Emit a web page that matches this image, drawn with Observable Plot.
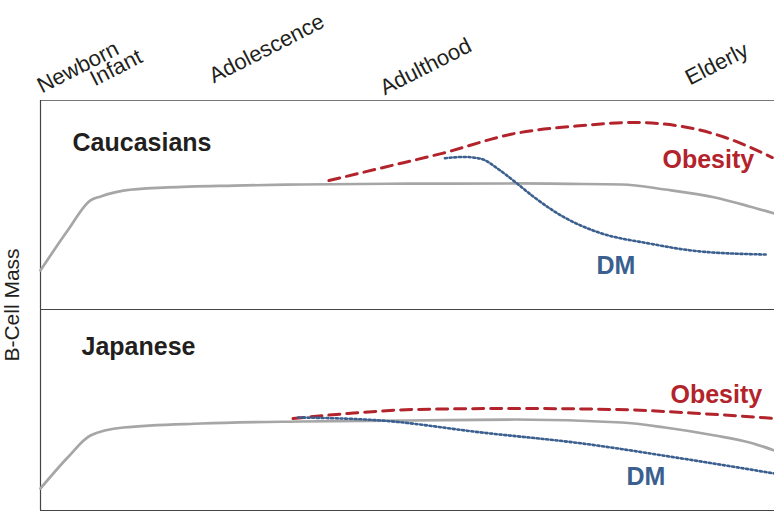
<!DOCTYPE html>
<html><head><meta charset="utf-8">
<script src="https://cdn.jsdelivr.net/npm/d3@7"></script>
<script src="https://cdn.jsdelivr.net/npm/@observablehq/plot@0.6"></script>
<style>
body{margin:0;background:#fff;}
#wrap{position:relative;width:774px;height:512px;overflow:hidden;}
#wrap svg{display:block;}
#ylab{position:absolute;left:12px;top:305px;transform:translate(-50%,-50%) rotate(-90deg);font:21px "Liberation Sans",Arial,sans-serif;color:#231f20;white-space:nowrap;line-height:0.9;}
</style></head><body>
<div id="wrap"></div>
<script>
// ---- DATA ----
const panels = ["Caucasians", "Japanese"];
const stageNames = ["Newborn", "Infant", "Adolescence", "Adulthood", "Elderly"];
const stageAges = [0.2, 7.4, 23.6, 46.9, 88.5];
const yLabel = "B-Cell Mass";

// Caucasians
const cauNormalAge = [0, 3.7, 6.8, 8.2, 11.3, 17.3, 26.4, 35.5, 50, 64.6, 72, 79.2, 85.1, 91.9, 96.6, 100];
const cauNormal    = [18.7, 37.8, 52.2, 54.1, 56.9, 58.4, 59.3, 59.8, 60.2, 60.3, 60.1, 59.8, 57.4, 53.6, 49.3, 45.9];
const cauObesityAge = [39.3, 47, 54.6, 64.6, 73.8, 80.6, 87.4, 93.3, 99.7];
const cauObesity    = [61.7, 68.2, 74.6, 84.2, 88.0, 89.5, 87.6, 82.3, 72.7];
const cauDMAge = [55.1, 57.8, 60.1, 62.4, 64.6, 67.3, 71.4, 76.1, 82.9, 89.8, 98.8];
const cauDM    = [72.4, 73.0, 72.0, 67.1, 61.2, 53.6, 44.0, 36.8, 31.6, 27.8, 26.3];

// Japanese
const jpnNormalAge = [0, 3.7, 6.8, 11.3, 21.9, 35.5, 50, 64.6, 79.2, 85.1, 91.9, 96.6, 100];
const jpnNormal    = [11, 26.5, 37.5, 41.5, 43.5, 44.5, 45, 45.5, 44, 41.5, 37.5, 34, 30];
const jpnObesityAge = [34.4, 41.9, 51, 64.6, 78.3, 89.8, 100];
const jpnObesity    = [46, 48.5, 50.5, 51, 50.5, 48.5, 46];
const jpnDMAge = [35.1, 46.4, 60.1, 73.8, 87.4, 100];
const jpnDM    = [46.5, 45, 39, 33.5, 26, 18.5];

const seriesNames = ["Normal", "Obesity", "DM"];
const seriesLabels = ["Obesity", "DM"];

// ---- build table ----
const rows = [];
function add(panel, series, ages, vals) {
  ages.forEach((a, i) => rows.push({panel, series, age: a, mass: vals[i]}));
}
add("Caucasians", "Normal", cauNormalAge, cauNormal);
add("Caucasians", "Obesity", cauObesityAge, cauObesity);
add("Caucasians", "DM", cauDMAge, cauDM);
add("Japanese", "Normal", jpnNormalAge, jpnNormal);
add("Japanese", "Obesity", jpnObesityAge, jpnObesity);
add("Japanese", "DM", jpnDMAge, jpnDM);
const stages = stageNames.map((name, i) => ({name, age: stageAges[i]}));

// ---- STYLE / LAYOUT ----
const X_DOMAIN = [0, 100];
const Y_DOMAIN = [0, 100];
const FONT = "Liberation Sans, Arial, Helvetica, sans-serif";
const INK = "#231f20";
const STYLE = {
  Normal:  {stroke: "#a6a6a6", strokeWidth: 2.7},
  Obesity: {stroke: "#b3232b", strokeWidth: 3, strokeDasharray: "11,7"},
  DM:      {stroke: "#3b5f8e", strokeWidth: 2.6, strokeDasharray: "2.1,2.6"}
};
const LABEL_COLOR = {Obesity: "#b3232b", DM: "#3b5f8e"};
const STAGE_DY = [-7, -14, -17, -5, -15];
const PANEL_LAYOUT = {
  Caucasians: {height: 310, marginTop: 100, marginBottom: 1, title: [32, 50], Obesity: [622, 67], DM: [556, 173]},
  Japanese:   {height: 202, marginTop: 0, marginBottom: 2, title: [41, 44], Obesity: [630, 92], DM: [586, 174]}
};

function panelPlot(panel, withStages) {
  const L = PANEL_LAYOUT[panel];
  const data = rows.filter(d => d.panel === panel);
  const marks = [
    Plot.ruleX([X_DOMAIN[0]], {stroke: "#444", strokeWidth: 1.2}),
    Plot.ruleY([Y_DOMAIN[0]], {stroke: "#444", strokeWidth: 1.2}),
    ...seriesNames.map(s => Plot.line(data.filter(d => d.series === s), {
      x: "age", y: "mass", curve: "monotone-x", ...STYLE[s]
    })),
    Plot.text([panel], {
      text: d => d, frameAnchor: "top-left", dx: L.title[0], dy: L.title[1],
      textAnchor: "start", lineAnchor: "bottom", fontSize: 25, fontWeight: "bold", fill: INK
    }),
    ...seriesLabels.map(s => Plot.text([s], {
      text: d => d, frameAnchor: "top-left", dx: L[s][0], dy: L[s][1],
      textAnchor: "start", lineAnchor: "bottom", fontSize: 25, fontWeight: "bold", fill: LABEL_COLOR[s]
    }))
  ];
  if (withStages) {
    marks.unshift(Plot.ruleY([Y_DOMAIN[1]], {stroke: "#777", strokeWidth: 1.2}));
    stages.forEach((st, i) => marks.push(Plot.text([st], {
      x: "age", text: "name", frameAnchor: "top", dy: STAGE_DY[i],
      rotate: -27, textAnchor: "start", lineAnchor: "bottom", fontSize: 22, fill: INK
    })));
  }
  return Plot.plot({
    width: 774, height: L.height,
    marginTop: L.marginTop, marginBottom: L.marginBottom, marginLeft: 40, marginRight: 0,
    x: {domain: X_DOMAIN, axis: null},
    y: {domain: Y_DOMAIN, axis: null},
    style: {fontFamily: FONT, background: "transparent", overflow: "visible"},
    marks
  });
}

const wrap = document.getElementById("wrap");
wrap.appendChild(panelPlot("Caucasians", true));
wrap.appendChild(panelPlot("Japanese", false));
const yl = document.createElement("div");
yl.id = "ylab";
yl.textContent = yLabel;
wrap.appendChild(yl);
</script>
</body></html>
